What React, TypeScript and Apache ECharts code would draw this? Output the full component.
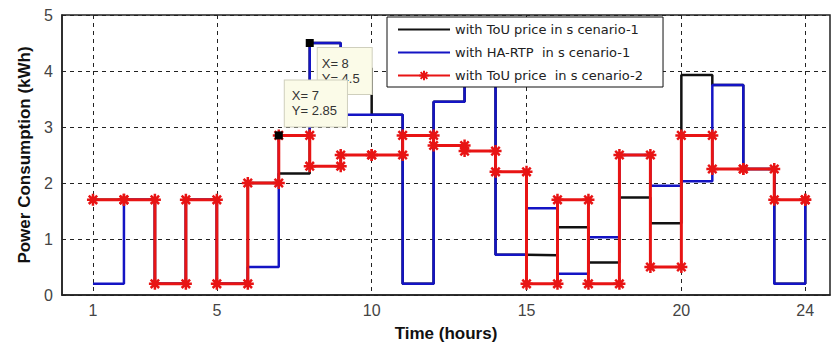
import React, { useEffect, useRef } from "react";
import * as echarts from "echarts";

const hours = [1, 2, 3, 4, 5, 6, 7, 8, 9, 10, 11, 12, 13, 14, 15, 16, 17, 18, 19, 20, 21, 22, 23, 24];
const xTickLabels = [1, 5, 10, 15, 20, 24];
const touScenario1 = [1.7, 1.7, 0.2, 1.7, 0.2, 2.0, 2.17, 4.5, 4.05, 3.22, 0.2, 3.45, 4.3, 0.72, 0.71, 1.21, 0.58, 1.74, 1.28, 3.93, 3.75, 2.25, 0.2, 1.7];
const haRtpScenario1 = [0.2, 1.7, 0.2, 1.7, 0.2, 0.5, 2.85, 4.5, 3.22, 3.22, 0.2, 3.45, 4.3, 0.72, 1.55, 0.38, 1.03, 2.5, 1.95, 2.03, 3.75, 2.25, 0.2, 1.7];
const touScenario2 = [1.7, 1.7, 0.2, 1.7, 0.2, 2.0, 2.85, 2.3, 2.5, 2.5, 2.85, 2.67, 2.57, 2.2, 0.2, 1.7, 0.2, 2.5, 0.5, 2.85, 2.25, 2.25, 1.7, 1.7];
const seriesNames = [
  "with ToU price in s cenario-1",
  "with HA-RTP  in s cenario-1",
  "with ToU price  in s cenario-2",
];
// data tips: hour index on the blue and red series
const tipBlueIndex = 7;
const tipRedIndex = 6;

const FONT = "'Liberation Sans', Arial, sans-serif";
const STAR = "path://M5,0L5,10M0,5L10,5M1.5,1.5L8.5,8.5M1.5,8.5L8.5,1.5";

function pairs(ys: number[]) {
  return hours.map((h, i) => [h, ys[i]]);
}
function stairVertices(ys: number[]) {
  const out: number[][] = [];
  for (let i = 0; i < hours.length; i++) {
    out.push([hours[i], ys[i]]);
    if (i < hours.length - 1) out.push([hours[i + 1], ys[i]]);
  }
  return out;
}

export default function App() {
  const ref = useRef<HTMLDivElement>(null);
  useEffect(() => {
    const chart = echarts.init(ref.current!, undefined, { renderer: "svg" });
    const grid = { type: [4, 4] as any, color: "#222", width: 1 };
    const tipLabel = (pad: number[]) => ({
      show: true,
      formatter: (p: any) => `X= ${p.data.coord[0]}\nY= ${p.data.coord[1]}`,
      backgroundColor: "#fbfbe8",
      borderColor: "#cfcfbd",
      borderWidth: 1,
      padding: pad,
      color: "#333",
      fontSize: 13,
      lineHeight: 15,
      fontFamily: FONT,
      align: "left",
      verticalAlign: "top",
    });
    const hiddenSymbol = { color: "rgba(0,0,0,0)", borderWidth: 0, opacity: 0 };
    chart.setOption({
      animation: false,
      backgroundColor: "#fff",
      grid: {
        left: 62,
        top: 15,
        right: 1,
        bottom: 52,
        show: true,
        borderColor: "#222",
        borderWidth: 1.5,
        backgroundColor: "#fff",
      },
      legend: {
        orient: "vertical",
        left: 387,
        top: 17,
        backgroundColor: "#fff",
        borderColor: "#111",
        borderWidth: 1,
        padding: [6, 20, 5, 10],
        itemWidth: 52,
        itemHeight: 12,
        itemGap: 10,
        textStyle: { fontFamily: "'DejaVu Sans', sans-serif", fontSize: 13, color: "#222" },
        data: [
          { name: seriesNames[0], itemStyle: hiddenSymbol },
          { name: seriesNames[1], itemStyle: hiddenSymbol },
          { name: seriesNames[2] },
        ],
      },
      xAxis: {
        type: "value",
        min: 0,
        max: 24.8,
        name: "Time (hours)",
        nameLocation: "middle",
        nameGap: 30,
        nameTextStyle: { fontFamily: FONT, fontSize: 17, fontWeight: "bold", color: "#111" },
        axisLine: { show: true, onZero: false, lineStyle: { color: "#222", width: 1.5 } },
        axisTick: { show: false, customValues: xTickLabels },
        axisLabel: { customValues: xTickLabels, fontFamily: FONT, fontSize: 16, color: "#444", margin: 7 },
        splitLine: { show: true, lineStyle: grid },
      },
      yAxis: {
        type: "value",
        min: 0,
        max: 5,
        interval: 1,
        name: "Power Consumption (kWh)",
        nameLocation: "middle",
        nameGap: 28,
        nameTextStyle: { fontFamily: FONT, fontSize: 17, fontWeight: "bold", color: "#111" },
        axisLine: { show: true, lineStyle: { color: "#222", width: 1.5 } },
        axisTick: { show: false },
        axisLabel: { fontFamily: FONT, fontSize: 16, color: "#444", margin: 9 },
        splitLine: { show: true, lineStyle: grid },
      },
      series: [
        {
          name: seriesNames[0],
          type: "line",
          step: "end",
          data: pairs(touScenario1),
          showSymbol: false,
          symbol: "none",
          color: "#111",
          lineStyle: { color: "#111", width: 2.5 },
          z: 2,
        },
        {
          name: seriesNames[1],
          type: "line",
          step: "end",
          data: pairs(haRtpScenario1),
          showSymbol: false,
          symbol: "none",
          color: "#1414c4",
          lineStyle: { color: "#1414c4", width: 2.5 },
          z: 3,
          markPoint: {
            symbol: "rect",
            symbolSize: 8,
            itemStyle: { color: "#000" },
            label: tipLabel([8, 12, 8, 4]),
            data: [
              {
                coord: [hours[tipBlueIndex], haRtpScenario1[tipBlueIndex]],
                label: { position: [12, 9] },
              },
            ],
          },
        },
        {
          name: seriesNames[2],
          type: "line",
          data: stairVertices(touScenario2),
          symbol: STAR,
          symbolSize: 12,
          showSymbol: true,
          color: "#e81414",
          itemStyle: { color: "#e81414", borderColor: "#e81414", borderWidth: 2.5 },
          lineStyle: { color: "#e81414", width: 3 },
          z: 4,
          markPoint: {
            symbol: "rect",
            symbolSize: 8,
            z: 10,
            itemStyle: { color: "#000" },
            label: tipLabel([8, 10, 8, 7]),
            data: [
              {
                coord: [hours[tipRedIndex], touScenario2[tipRedIndex]],
                label: { position: [10, -51] },
              },
            ],
          },
        },
      ],
    });
    return () => chart.dispose();
  }, []);
  return (
    <div
      ref={ref}
      style={{ position: "absolute", left: 0, top: 0, width: 831, height: 347, background: "#fff" }}
    />
  );
}
